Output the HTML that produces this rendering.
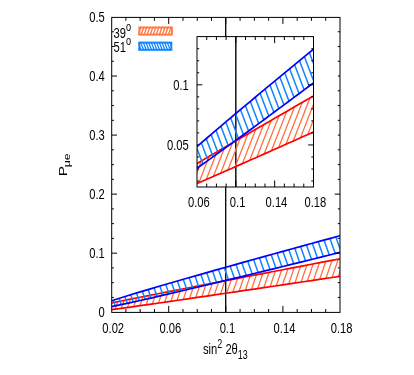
<!DOCTYPE html>
<html><head><meta charset="utf-8"><title>plot</title><style>html,body{margin:0;padding:0;background:#fff}svg{display:block}svg text{font-family:"Liberation Sans",sans-serif}</style></head><body>
<svg width="414" height="375" viewBox="0 0 414 375" font-size="15.4" fill="#000">
<rect width="414" height="375" fill="#fff"/>
<path d="M225.70 17.4V312.4" stroke="#000" stroke-width="1.3"/>
<clipPath id="mc"><rect x="111.7" y="17.4" width="228.30" height="295.00"/></clipPath>
<clipPath id="mr"><polygon points="111.60,302.86 121.12,300.98 130.63,299.11 140.15,297.25 149.67,295.39 159.18,293.54 168.70,291.70 178.22,289.85 187.73,288.01 197.25,286.18 206.77,284.34 216.28,282.51 225.80,280.68 235.32,278.85 244.83,277.02 254.35,275.19 263.87,273.37 273.38,271.54 282.90,269.72 292.42,267.90 301.93,266.07 311.45,264.25 320.97,262.43 330.48,260.61 340.00,258.79 340.00,276.32 330.48,277.74 320.97,279.16 311.45,280.58 301.93,282.00 292.42,283.41 282.90,284.83 273.38,286.24 263.87,287.65 254.35,289.06 244.83,290.46 235.32,291.87 225.80,293.27 216.28,294.67 206.77,296.06 197.25,297.46 187.73,298.85 178.22,300.23 168.70,301.61 159.18,302.98 149.67,304.35 140.15,305.71 130.63,307.06 121.12,308.40 111.60,309.71"/></clipPath>
<path clip-path="url(#mr)" stroke="#ff7040" stroke-width="1.3" fill="none" d="M71.97 315.0L100.87 230.0M77.86 315.0L106.76 230.0M83.75 315.0L112.65 230.0M89.64 315.0L118.54 230.0M95.53 315.0L124.43 230.0M101.42 315.0L130.32 230.0M107.31 315.0L136.21 230.0M113.20 315.0L142.10 230.0M119.09 315.0L147.99 230.0M124.98 315.0L153.88 230.0M130.87 315.0L159.77 230.0M136.76 315.0L165.66 230.0M142.65 315.0L171.55 230.0M148.54 315.0L177.44 230.0M154.43 315.0L183.33 230.0M160.32 315.0L189.22 230.0M166.21 315.0L195.11 230.0M172.10 315.0L201.00 230.0M177.99 315.0L206.89 230.0M183.88 315.0L212.78 230.0M189.77 315.0L218.67 230.0M195.66 315.0L224.56 230.0M201.55 315.0L230.45 230.0M207.44 315.0L236.34 230.0M213.33 315.0L242.23 230.0M219.22 315.0L248.12 230.0M225.11 315.0L254.01 230.0M231.00 315.0L259.90 230.0M236.89 315.0L265.79 230.0M242.78 315.0L271.68 230.0M248.67 315.0L277.57 230.0M254.56 315.0L283.46 230.0M260.45 315.0L289.35 230.0M266.34 315.0L295.24 230.0M272.23 315.0L301.13 230.0M278.12 315.0L307.02 230.0M284.01 315.0L312.91 230.0M289.90 315.0L318.80 230.0M295.79 315.0L324.69 230.0M301.68 315.0L330.58 230.0M307.57 315.0L336.47 230.0M313.46 315.0L342.36 230.0M319.35 315.0L348.25 230.0M325.24 315.0L354.14 230.0M331.13 315.0L360.03 230.0M337.02 315.0L365.92 230.0M342.91 315.0L371.81 230.0M348.80 315.0L377.70 230.0M354.69 315.0L383.59 230.0M360.58 315.0L389.48 230.0M366.47 315.0L395.37 230.0M372.36 315.0L401.26 230.0M378.25 315.0L407.15 230.0"/>
<g clip-path="url(#mc)" fill="none" stroke-width="1.7" stroke="#ff0000">
<polyline points="111.60,309.71 121.12,308.40 130.63,307.06 140.15,305.71 149.67,304.35 159.18,302.98 168.70,301.61 178.22,300.23 187.73,298.85 197.25,297.46 206.77,296.06 216.28,294.67 225.80,293.27 235.32,291.87 244.83,290.46 254.35,289.06 263.87,287.65 273.38,286.24 282.90,284.83 292.42,283.41 301.93,282.00 311.45,280.58 320.97,279.16 330.48,277.74 340.00,276.32"/>
<polyline points="111.60,302.86 121.12,300.98 130.63,299.11 140.15,297.25 149.67,295.39 159.18,293.54 168.70,291.70 178.22,289.85 187.73,288.01 197.25,286.18 206.77,284.34 216.28,282.51 225.80,280.68 235.32,278.85 244.83,277.02 254.35,275.19 263.87,273.37 273.38,271.54 282.90,269.72 292.42,267.90 301.93,266.07 311.45,264.25 320.97,262.43 330.48,260.61 340.00,258.79"/>
</g>
<clipPath id="mb"><polygon points="111.60,300.74 121.12,297.73 130.63,294.80 140.15,291.92 149.67,289.09 159.18,286.29 168.70,283.51 178.22,280.76 187.73,278.03 197.25,275.31 206.77,272.61 216.28,269.92 225.80,267.24 235.32,264.57 244.83,261.91 254.35,259.26 263.87,256.62 273.38,253.99 282.90,251.36 292.42,248.74 301.93,246.12 311.45,243.51 320.97,240.91 330.48,238.31 340.00,235.71 340.00,252.43 330.48,254.79 320.97,257.15 311.45,259.50 301.93,261.84 292.42,264.18 282.90,266.52 273.38,268.85 263.87,271.18 254.35,273.49 244.83,275.81 235.32,278.11 225.80,280.41 216.28,282.69 206.77,284.97 197.25,287.24 187.73,289.49 178.22,291.73 168.70,293.95 159.18,296.16 149.67,298.34 140.15,300.49 130.63,302.60 121.12,304.67 111.60,306.68"/></clipPath>
<path clip-path="url(#mb)" stroke="#0f85ff" stroke-width="1.5" fill="none" d="M73.37 315.0L43.62 230.0M79.81 315.0L50.06 230.0M86.25 315.0L56.50 230.0M92.69 315.0L62.94 230.0M99.13 315.0L69.38 230.0M105.57 315.0L75.82 230.0M112.01 315.0L82.26 230.0M118.45 315.0L88.70 230.0M124.89 315.0L95.14 230.0M131.33 315.0L101.58 230.0M137.77 315.0L108.02 230.0M144.21 315.0L114.46 230.0M150.65 315.0L120.90 230.0M157.09 315.0L127.34 230.0M163.53 315.0L133.78 230.0M169.97 315.0L140.22 230.0M176.41 315.0L146.66 230.0M182.85 315.0L153.10 230.0M189.29 315.0L159.54 230.0M195.73 315.0L165.98 230.0M202.17 315.0L172.42 230.0M208.61 315.0L178.86 230.0M215.05 315.0L185.30 230.0M221.49 315.0L191.74 230.0M227.93 315.0L198.18 230.0M234.37 315.0L204.62 230.0M240.81 315.0L211.06 230.0M247.25 315.0L217.50 230.0M253.69 315.0L223.94 230.0M260.13 315.0L230.38 230.0M266.57 315.0L236.82 230.0M273.01 315.0L243.26 230.0M279.45 315.0L249.70 230.0M285.89 315.0L256.14 230.0M292.33 315.0L262.58 230.0M298.77 315.0L269.02 230.0M305.21 315.0L275.46 230.0M311.65 315.0L281.90 230.0M318.09 315.0L288.34 230.0M324.53 315.0L294.78 230.0M330.97 315.0L301.22 230.0M337.41 315.0L307.66 230.0M343.85 315.0L314.10 230.0M350.29 315.0L320.54 230.0M356.73 315.0L326.98 230.0M363.17 315.0L333.42 230.0M369.61 315.0L339.86 230.0M376.05 315.0L346.30 230.0M382.49 315.0L352.74 230.0"/>
<g clip-path="url(#mc)" fill="none" stroke-width="1.7" stroke="#0000ff">
<polyline points="111.60,306.68 121.12,304.67 130.63,302.60 140.15,300.49 149.67,298.34 159.18,296.16 168.70,293.95 178.22,291.73 187.73,289.49 197.25,287.24 206.77,284.97 216.28,282.69 225.80,280.41 235.32,278.11 244.83,275.81 254.35,273.49 263.87,271.18 273.38,268.85 282.90,266.52 292.42,264.18 301.93,261.84 311.45,259.50 320.97,257.15 330.48,254.79 340.00,252.43"/>
<polyline points="111.60,300.74 121.12,297.73 130.63,294.80 140.15,291.92 149.67,289.09 159.18,286.29 168.70,283.51 178.22,280.76 187.73,278.03 197.25,275.31 206.77,272.61 216.28,269.92 225.80,267.24 235.32,264.57 244.83,261.91 254.35,259.26 263.87,256.62 273.38,253.99 282.90,251.36 292.42,248.74 301.93,246.12 311.45,243.51 320.97,240.91 330.48,238.31 340.00,235.71"/>
</g>
<path d="M125.88 312.4v-3.4M125.88 17.4v3.4M140.15 312.4v-3.4M140.15 17.4v3.4M154.43 312.4v-3.4M154.43 17.4v3.4M182.97 312.4v-3.4M182.97 17.4v3.4M197.25 312.4v-3.4M197.25 17.4v3.4M211.53 312.4v-3.4M211.53 17.4v3.4M240.07 312.4v-3.4M240.07 17.4v3.4M254.35 312.4v-3.4M254.35 17.4v3.4M268.62 312.4v-3.4M268.62 17.4v3.4M297.18 312.4v-3.4M297.18 17.4v3.4M311.45 312.4v-3.4M311.45 17.4v3.4M325.73 312.4v-3.4M325.73 17.4v3.4M168.70 312.4v-6.5M168.70 17.4v6.5M225.80 312.4v-6.5M225.80 17.4v6.5M282.90 312.4v-6.5M282.90 17.4v6.5M111.7 297.44h2.2M340.0 297.44h-2.2M111.7 282.68h2.2M340.0 282.68h-2.2M111.7 267.92h2.2M340.0 267.92h-2.2M111.7 238.40h2.2M340.0 238.40h-2.2M111.7 223.64h2.2M340.0 223.64h-2.2M111.7 208.88h2.2M340.0 208.88h-2.2M111.7 179.36h2.2M340.0 179.36h-2.2M111.7 164.60h2.2M340.0 164.60h-2.2M111.7 149.84h2.2M340.0 149.84h-2.2M111.7 120.32h2.2M340.0 120.32h-2.2M111.7 105.56h2.2M340.0 105.56h-2.2M111.7 90.80h2.2M340.0 90.80h-2.2M111.7 61.28h2.2M340.0 61.28h-2.2M111.7 46.52h2.2M340.0 46.52h-2.2M111.7 31.76h2.2M340.0 31.76h-2.2M111.7 253.16h5.3M340.0 253.16h-5.3M111.7 194.12h5.3M340.0 194.12h-5.3M111.7 135.08h5.3M340.0 135.08h-2.2M111.7 76.04h5.3M340.0 76.04h-2.2" stroke="#000" stroke-width="1.0" fill="none"/>
<rect x="111.7" y="17.4" width="228.30" height="295.00" fill="none" stroke="#000" stroke-width="1.0"/>
<text transform="translate(113.20 332.50) scale(0.727 1)" text-anchor="middle" font-size="15.4" >0.02</text>
<text transform="translate(170.30 332.50) scale(0.727 1)" text-anchor="middle" font-size="15.4" >0.06</text>
<text transform="translate(227.40 332.50) scale(0.727 1)" text-anchor="middle" font-size="15.4" >0.1</text>
<text transform="translate(284.50 332.50) scale(0.727 1)" text-anchor="middle" font-size="15.4" >0.14</text>
<text transform="translate(341.60 332.50) scale(0.727 1)" text-anchor="middle" font-size="15.4" >0.18</text>
<text transform="translate(104.80 317.40) scale(0.727 1)" text-anchor="end" font-size="15.4" >0</text>
<text transform="translate(104.80 258.36) scale(0.727 1)" text-anchor="end" font-size="15.4" >0.1</text>
<text transform="translate(104.80 199.32) scale(0.727 1)" text-anchor="end" font-size="15.4" >0.2</text>
<text transform="translate(104.80 140.28) scale(0.727 1)" text-anchor="end" font-size="15.4" >0.3</text>
<text transform="translate(104.80 81.24) scale(0.727 1)" text-anchor="end" font-size="15.4" >0.4</text>
<text transform="translate(104.80 22.20) scale(0.727 1)" text-anchor="end" font-size="15.4" >0.5</text>
<rect x="197.0" y="36.6" width="116.50" height="150.40" fill="#fff"/>
<path d="M235.83 36.6V187.0" stroke="#000" stroke-width="1.4"/>
<clipPath id="ic"><rect x="197.0" y="36.6" width="116.50" height="150.40"/></clipPath>
<clipPath id="ir"><polygon points="197.00,163.52 201.85,160.68 206.71,157.84 211.56,155.01 216.42,152.18 221.27,149.35 226.12,146.52 230.98,143.69 235.83,140.87 240.69,138.05 245.54,135.23 250.39,132.41 255.25,129.60 260.10,126.78 264.96,123.97 269.81,121.15 274.66,118.34 279.52,115.53 284.37,112.72 289.23,109.91 294.08,107.10 298.93,104.30 303.79,101.49 308.64,98.68 313.50,95.88 313.50,132.00 308.64,134.17 303.79,136.34 298.93,138.51 294.08,140.67 289.23,142.84 284.37,145.00 279.52,147.16 274.66,149.32 269.81,151.48 264.96,153.64 260.10,155.79 255.25,157.94 250.39,160.09 245.54,162.24 240.69,164.38 235.83,166.52 230.98,168.66 226.12,170.80 221.27,172.93 216.42,175.06 211.56,177.18 206.71,179.30 201.85,181.41 197.00,183.52"/></clipPath>
<path clip-path="url(#ir)" stroke="#ff7040" stroke-width="1.3" fill="none" d="M130.10 190.0L188.60 40.0M136.10 190.0L194.60 40.0M142.10 190.0L200.60 40.0M148.10 190.0L206.60 40.0M154.10 190.0L212.60 40.0M160.10 190.0L218.60 40.0M166.10 190.0L224.60 40.0M172.10 190.0L230.60 40.0M178.10 190.0L236.60 40.0M184.10 190.0L242.60 40.0M190.10 190.0L248.60 40.0M196.10 190.0L254.60 40.0M202.10 190.0L260.60 40.0M208.10 190.0L266.60 40.0M214.10 190.0L272.60 40.0M220.10 190.0L278.60 40.0M226.10 190.0L284.60 40.0M232.10 190.0L290.60 40.0M238.10 190.0L296.60 40.0M244.10 190.0L302.60 40.0M250.10 190.0L308.60 40.0M256.10 190.0L314.60 40.0M262.10 190.0L320.60 40.0M268.10 190.0L326.60 40.0M274.10 190.0L332.60 40.0M280.10 190.0L338.60 40.0M286.10 190.0L344.60 40.0M292.10 190.0L350.60 40.0M298.10 190.0L356.60 40.0M304.10 190.0L362.60 40.0M310.10 190.0L368.60 40.0M316.10 190.0L374.60 40.0M322.10 190.0L380.60 40.0M328.10 190.0L386.60 40.0M334.10 190.0L392.60 40.0M340.10 190.0L398.60 40.0M346.10 190.0L404.60 40.0M352.10 190.0L410.60 40.0M358.10 190.0L416.60 40.0M364.10 190.0L422.60 40.0M370.10 190.0L428.60 40.0M376.10 190.0L434.60 40.0M382.10 190.0L440.60 40.0"/>
<g clip-path="url(#ic)" fill="none" stroke-width="1.7" stroke="#ff0000">
<polyline points="197.00,183.52 201.85,181.41 206.71,179.30 211.56,177.18 216.42,175.06 221.27,172.93 226.12,170.80 230.98,168.66 235.83,166.52 240.69,164.38 245.54,162.24 250.39,160.09 255.25,157.94 260.10,155.79 264.96,153.64 269.81,151.48 274.66,149.32 279.52,147.16 284.37,145.00 289.23,142.84 294.08,140.67 298.93,138.51 303.79,136.34 308.64,134.17 313.50,132.00"/>
<polyline points="197.00,163.52 201.85,160.68 206.71,157.84 211.56,155.01 216.42,152.18 221.27,149.35 226.12,146.52 230.98,143.69 235.83,140.87 240.69,138.05 245.54,135.23 250.39,132.41 255.25,129.60 260.10,126.78 264.96,123.97 269.81,121.15 274.66,118.34 279.52,115.53 284.37,112.72 289.23,109.91 294.08,107.10 298.93,104.30 303.79,101.49 308.64,98.68 313.50,95.88"/>
</g>
<clipPath id="ib"><polygon points="197.00,146.64 201.85,142.43 206.71,138.25 211.56,134.08 216.42,129.93 221.27,125.80 226.12,121.68 230.98,117.58 235.83,113.49 240.69,109.41 245.54,105.34 250.39,101.28 255.25,97.24 260.10,93.20 264.96,89.17 269.81,85.15 274.66,81.13 279.52,77.12 284.37,73.12 289.23,69.13 294.08,65.14 298.93,61.16 303.79,57.18 308.64,53.21 313.50,49.25 313.50,82.82 308.64,86.46 303.79,90.09 298.93,93.72 294.08,97.35 289.23,100.97 284.37,104.58 279.52,108.19 274.66,111.79 269.81,115.39 264.96,118.98 260.10,122.56 255.25,126.13 250.39,129.70 245.54,133.26 240.69,136.81 235.83,140.35 230.98,143.88 226.12,147.40 221.27,150.91 216.42,154.40 211.56,157.88 206.71,161.34 201.85,164.79 197.00,168.22"/></clipPath>
<path clip-path="url(#ib)" stroke="#0f85ff" stroke-width="1.5" fill="none" d="M128.65 190.0L71.65 40.0M135.12 190.0L78.12 40.0M141.59 190.0L84.59 40.0M148.06 190.0L91.06 40.0M154.53 190.0L97.53 40.0M161.00 190.0L104.00 40.0M167.47 190.0L110.47 40.0M173.94 190.0L116.94 40.0M180.41 190.0L123.41 40.0M186.88 190.0L129.88 40.0M193.35 190.0L136.35 40.0M199.82 190.0L142.82 40.0M206.29 190.0L149.29 40.0M212.76 190.0L155.76 40.0M219.23 190.0L162.23 40.0M225.70 190.0L168.70 40.0M232.17 190.0L175.17 40.0M238.64 190.0L181.64 40.0M245.11 190.0L188.11 40.0M251.58 190.0L194.58 40.0M258.05 190.0L201.05 40.0M264.52 190.0L207.52 40.0M270.99 190.0L213.99 40.0M277.46 190.0L220.46 40.0M283.93 190.0L226.93 40.0M290.40 190.0L233.40 40.0M296.87 190.0L239.87 40.0M303.34 190.0L246.34 40.0M309.81 190.0L252.81 40.0M316.28 190.0L259.28 40.0M322.75 190.0L265.75 40.0M329.22 190.0L272.22 40.0M335.69 190.0L278.69 40.0M342.16 190.0L285.16 40.0M348.63 190.0L291.63 40.0M355.10 190.0L298.10 40.0M361.57 190.0L304.57 40.0M368.04 190.0L311.04 40.0M374.51 190.0L317.51 40.0M380.98 190.0L323.98 40.0"/>
<g clip-path="url(#ic)" fill="none" stroke-width="1.7" stroke="#0000ff">
<polyline points="197.00,168.22 201.85,164.79 206.71,161.34 211.56,157.88 216.42,154.40 221.27,150.91 226.12,147.40 230.98,143.88 235.83,140.35 240.69,136.81 245.54,133.26 250.39,129.70 255.25,126.13 260.10,122.56 264.96,118.98 269.81,115.39 274.66,111.79 279.52,108.19 284.37,104.58 289.23,100.97 294.08,97.35 298.93,93.72 303.79,90.09 308.64,86.46 313.50,82.82"/>
<polyline points="197.00,146.64 201.85,142.43 206.71,138.25 211.56,134.08 216.42,129.93 221.27,125.80 226.12,121.68 230.98,117.58 235.83,113.49 240.69,109.41 245.54,105.34 250.39,101.28 255.25,97.24 260.10,93.20 264.96,89.17 269.81,85.15 274.66,81.13 279.52,77.12 284.37,73.12 289.23,69.13 294.08,65.14 298.93,61.16 303.79,57.18 308.64,53.21 313.50,49.25"/>
</g>
<path d="M206.71 187.0v-3.4M206.71 36.6v3.4M216.42 187.0v-3.4M216.42 36.6v3.4M226.12 187.0v-3.4M226.12 36.6v3.4M245.54 187.0v-3.4M245.54 36.6v3.4M255.25 187.0v-3.4M255.25 36.6v3.4M264.96 187.0v-3.4M264.96 36.6v3.4M284.37 187.0v-3.4M284.37 36.6v3.4M294.08 187.0v-3.4M294.08 36.6v3.4M303.79 187.0v-3.4M303.79 36.6v3.4M235.83 187.0v-6.5M235.83 36.6v6.5M274.66 187.0v-6.5M274.66 36.6v6.5M197.0 181.04h2.2M313.5 181.04h-2.2M197.0 169.01h2.2M313.5 169.01h-2.2M197.0 156.98h2.2M313.5 156.98h-2.2M197.0 132.92h2.2M313.5 132.92h-2.2M197.0 120.89h2.2M313.5 120.89h-2.2M197.0 108.86h2.2M313.5 108.86h-2.2M197.0 96.83h2.2M313.5 96.83h-2.2M197.0 72.77h2.2M313.5 72.77h-2.2M197.0 60.74h2.2M313.5 60.74h-2.2M197.0 48.71h2.2M313.5 48.71h-2.2M197.0 144.95h1.6M313.5 144.95h-5.3M197.0 84.80h5.3M313.5 84.80h-5.3" stroke="#000" stroke-width="1.0" fill="none"/>
<rect x="197.0" y="36.6" width="116.50" height="150.40" fill="none" stroke="#000" stroke-width="1.0"/>
<text transform="translate(198.80 207.20) scale(0.727 1)" text-anchor="middle" font-size="15.4" >0.06</text>
<text transform="translate(237.63 207.20) scale(0.727 1)" text-anchor="middle" font-size="15.4" >0.1</text>
<text transform="translate(276.46 207.20) scale(0.727 1)" text-anchor="middle" font-size="15.4" >0.14</text>
<text transform="translate(315.30 207.20) scale(0.727 1)" text-anchor="middle" font-size="15.4" >0.18</text>
<text transform="translate(188.80 90.00) scale(0.727 1)" text-anchor="end" font-size="15.4" >0.1</text>
<text transform="translate(188.80 150.15) scale(0.727 1)" text-anchor="end" font-size="15.4" >0.05</text>
<text transform="translate(113.60 37.50) scale(0.727 1)" text-anchor="start" font-size="15.4" >39<tspan font-size="12.6" dy="-7">o</tspan></text>
<text transform="translate(113.60 52.30) scale(0.727 1)" text-anchor="start" font-size="15.4" >51<tspan font-size="12.6" dy="-7">o</tspan></text>
<clipPath id="l1"><rect x="138.4" y="26.6" width="34.40" height="8.90"/></clipPath>
<path clip-path="url(#l1)" stroke="#ff7a45" stroke-width="1.4" d="M128.40 36.5L132.22 25.6M131.43 36.5L135.25 25.6M134.46 36.5L138.28 25.6M137.49 36.5L141.31 25.6M140.52 36.5L144.34 25.6M143.55 36.5L147.37 25.6M146.58 36.5L150.40 25.6M149.61 36.5L153.43 25.6M152.64 36.5L156.46 25.6M155.67 36.5L159.49 25.6M158.70 36.5L162.52 25.6M161.73 36.5L165.55 25.6M164.76 36.5L168.58 25.6M167.79 36.5L171.61 25.6M170.82 36.5L174.64 25.6M173.85 36.5L177.67 25.6M176.88 36.5L180.70 25.6M179.91 36.5L183.73 25.6"/>
<rect x="139.35" y="27.55" width="32.50" height="7.00" fill="none" stroke="#ff7a45" stroke-width="1.9"/>
<clipPath id="l2"><rect x="138.4" y="41.7" width="33.80" height="9.00"/></clipPath>
<path clip-path="url(#l2)" stroke="#0f85ff" stroke-width="1.25" d="M128.40 51.7L124.00 40.7M131.06 51.7L126.66 40.7M133.72 51.7L129.32 40.7M136.38 51.7L131.98 40.7M139.04 51.7L134.64 40.7M141.70 51.7L137.30 40.7M144.36 51.7L139.96 40.7M147.02 51.7L142.62 40.7M149.68 51.7L145.28 40.7M152.34 51.7L147.94 40.7M155.00 51.7L150.60 40.7M157.66 51.7L153.26 40.7M160.32 51.7L155.92 40.7M162.98 51.7L158.58 40.7M165.64 51.7L161.24 40.7M168.30 51.7L163.90 40.7M170.96 51.7L166.56 40.7M173.62 51.7L169.22 40.7M176.28 51.7L171.88 40.7M178.94 51.7L174.54 40.7M181.60 51.7L177.20 40.7"/>
<rect x="139.35" y="42.650000000000006" width="31.90" height="7.10" fill="none" stroke="#0f85ff" stroke-width="1.9"/>
<text transform="translate(203.0 354.2) scale(0.727 1)">sin<tspan font-size="12.3" dy="-6">2</tspan><tspan dy="6"> 2θ</tspan><tspan font-size="12.3" dy="4.4">13</tspan></text>
<text transform="translate(67.2 176.3) rotate(-90) scale(1 0.727)">P<tspan font-size="12.3" dy="4.4" dx="-1.2">μe</tspan></text>
</svg>
</body></html>
